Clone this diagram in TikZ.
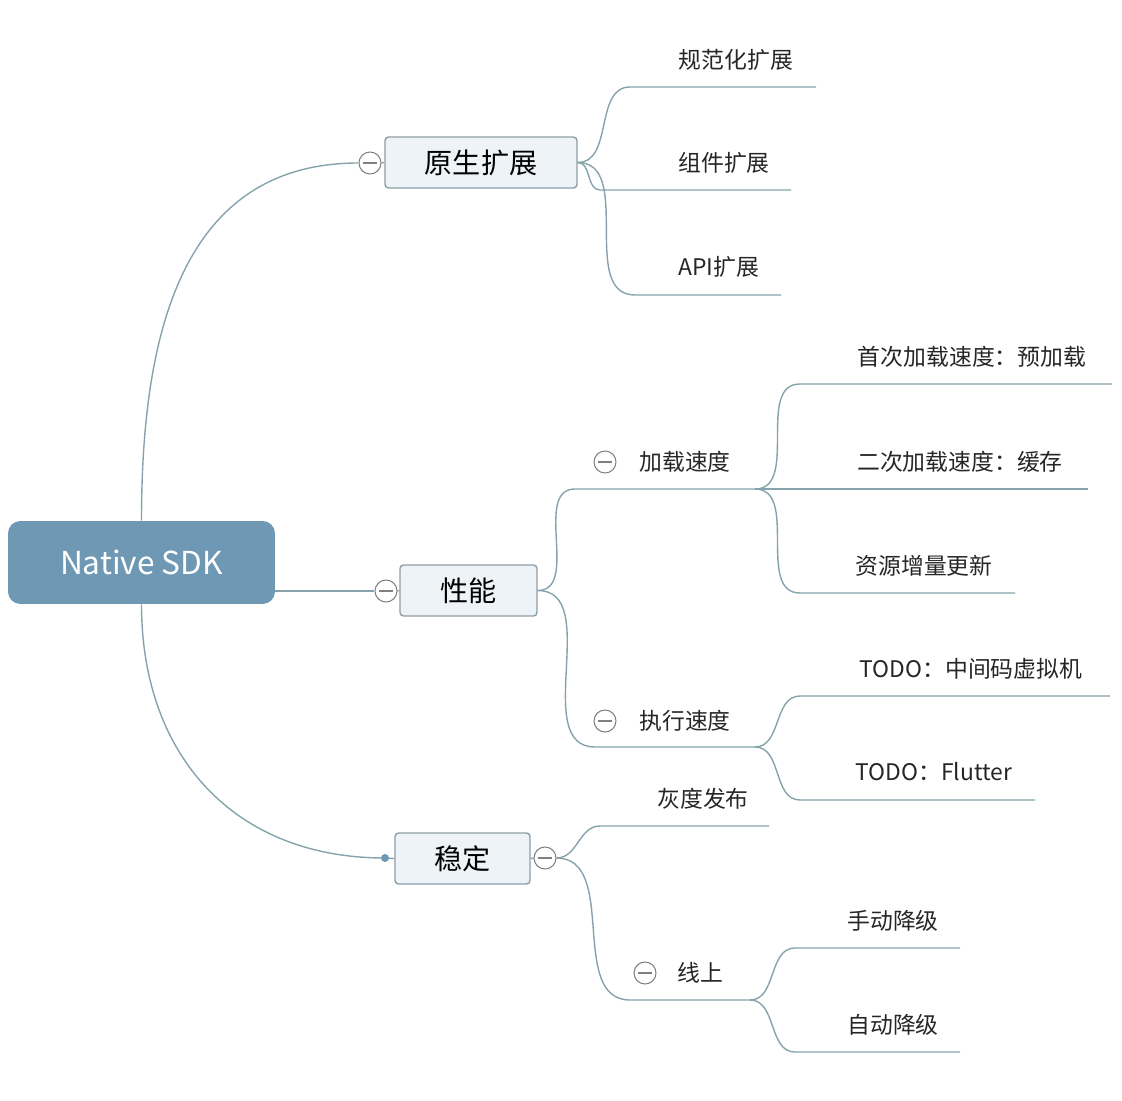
\documentclass[tikz,border=0pt]{standalone}
\usepackage{fontspec}
\setmainfont{Noto Sans CJK SC}
\usetikzlibrary{backgrounds}
\definecolor{rootblue}{HTML}{6F98B4}
\definecolor{boxfill}{HTML}{EEF3F8}
\definecolor{boxline}{HTML}{8E9EA8}
\definecolor{branch}{HTML}{86A3AC}
\pgfdeclarelayer{edgelayer}
\pgfdeclarelayer{nodelayer}
\pgfsetlayers{edgelayer,nodelayer,main}
\tikzset{font=\fontsize{13}{15}\selectfont}
\tikzstyle{none}=[inner sep=0pt]
\tikzstyle{root}=[rectangle,rounded corners=7pt,fill=rootblue,text=white,minimum width=5.34cm,minimum height=1.66cm,font=\fontsize{18}{20}\selectfont]
\tikzstyle{topic}=[rectangle,rounded corners=2pt,draw=boxline,fill=boxfill,line width=0.8pt,minimum height=1.02cm,font=\fontsize{16}{18}\selectfont]
\tikzstyle{leaf}=[inner sep=0pt,text=black!85]
\tikzstyle{fold}=[circle,draw=gray,fill=white,line width=0.6pt,minimum size=0.44cm,inner sep=0pt,
  path picture={\draw[gray,line width=0.6pt] ([xshift=-0.14cm]path picture bounding box.center) -- ([xshift=0.14cm]path picture bounding box.center);}]
\tikzstyle{dot}=[circle,fill=rootblue,inner sep=0pt,minimum size=0.16cm]
\tikzstyle{branchline}=[draw=branch,line width=0.8pt]

\begin{document}
\begin{tikzpicture}[x=0.02cm,y=0.02cm]
	\useasboundingbox (0,0) rectangle (1122,1100);
	\begin{pgfonlayer}{nodelayer}
		\node [style=root] (0) at (141.5, 537.5) {Native SDK};
		\node [style=topic, minimum width=3.84cm] (1) at (481, 937.5) {原生扩展};
		\node [style=topic, minimum width=2.74cm] (2) at (468.5, 509.5) {性能};
		\node [style=topic, minimum width=2.70cm] (3) at (462.5, 241.5) {稳定};
		\node [style=fold] (4) at (370, 937) {};
		\node [style=fold] (5) at (386, 509) {};
		\node [style=dot] (6) at (385, 242) {};
		\node [style=fold] (7) at (545, 242) {};
		% 原生扩展
		\node [style=leaf] (8) at (736, 1040) {规范化扩展};
		\node [style=none] (9) at (630, 1013) {};
		\node [style=none] (10) at (816, 1013) {};
		\node [style=leaf] (11) at (724, 937) {组件扩展};
		\node [style=none] (12) at (600, 910) {};
		\node [style=none] (13) at (791, 910) {};
		\node [style=leaf] (14) at (719, 833) {API扩展};
		\node [style=none] (15) at (635, 805) {};
		\node [style=none] (16) at (781, 805) {};
		% 性能
		\node [style=fold] (17) at (605, 638) {};
		\node [style=leaf] (18) at (685, 638) {加载速度};
		\node [style=none] (19) at (575, 611) {};
		\node [style=none] (20) at (755, 611) {};
		\node [style=fold] (21) at (605, 379) {};
		\node [style=leaf] (22) at (685, 379) {执行速度};
		\node [style=none] (23) at (595, 353) {};
		\node [style=none] (24) at (755, 353) {};
		\node [style=leaf] (25) at (972, 743) {首次加载速度：预加载};
		\node [style=none] (26) at (800, 716) {};
		\node [style=none] (27) at (1112, 716) {};
		\node [style=leaf] (28) at (960, 638) {二次加载速度：缓存};
		\node [style=none] (29) at (800, 611) {};
		\node [style=none] (30) at (1088, 611) {};
		\node [style=leaf] (31) at (924, 534) {资源增量更新};
		\node [style=none] (32) at (800, 507) {};
		\node [style=none] (33) at (1015, 507) {};
		\node [style=leaf] (34) at (971, 431) {TODO：中间码虚拟机};
		\node [style=none] (35) at (800, 404) {};
		\node [style=none] (36) at (1110, 404) {};
		\node [style=leaf] (37) at (934, 328) {TODO：Flutter};
		\node [style=none] (38) at (800, 300) {};
		\node [style=none] (39) at (1035, 300) {};
		% 稳定
		\node [style=leaf] (40) at (703, 301) {灰度发布};
		\node [style=none] (41) at (600, 274) {};
		\node [style=none] (42) at (769, 274) {};
		\node [style=fold] (43) at (645, 127) {};
		\node [style=leaf] (44) at (700, 127) {线上};
		\node [style=none] (45) at (630, 100) {};
		\node [style=none] (46) at (750, 100) {};
		\node [style=leaf] (47) at (893, 179) {手动降级};
		\node [style=none] (48) at (795, 152) {};
		\node [style=none] (49) at (960, 152) {};
		\node [style=leaf] (50) at (893, 75) {自动降级};
		\node [style=none] (51) at (795, 48) {};
		\node [style=none] (52) at (960, 48) {};
	\end{pgfonlayer}
	\begin{pgfonlayer}{edgelayer}
		\draw[style=branchline] [in=180, out=90, looseness=1.10] (0.north) to (4.west);
		\draw[style=branchline] (0.east |- 5.west) to (5.west);
		\draw[style=branchline] [in=180, out=-90, looseness=1.10] (0.south) to (6.center);
		\draw[style=branchline] (4.east) to (1.west);
		\draw[style=branchline] (5.east) to (2.west);
		\draw[style=branchline] (6.center) to (3.west);
		\draw[style=branchline] (3.east) to (7.west);
		\draw[style=branchline] [in=180, out=0] (1.east) to (9.center) to (10.center);
		\draw[style=branchline] [in=180, out=0] (1.east) to (12.center) to (13.center);
		\draw[style=branchline] [in=180, out=0] (1.east) to (15.center) to (16.center);
		\draw[style=branchline] [in=180, out=0] (2.east) to (19.center) to (20.center);
		\draw[style=branchline] [in=180, out=0] (2.east) to (23.center) to (24.center);
		\draw[style=branchline] [in=180, out=0] (20.center) to (26.center) to (27.center);
		\draw[style=branchline] [in=180, out=0] (20.center) to (29.center) to (30.center);
		\draw[style=branchline] [in=180, out=0] (20.center) to (32.center) to (33.center);
		\draw[style=branchline] [in=180, out=0] (24.center) to (35.center) to (36.center);
		\draw[style=branchline] [in=180, out=0] (24.center) to (38.center) to (39.center);
		\draw[style=branchline] [in=180, out=0] (7.east) to (41.center) to (42.center);
		\draw[style=branchline] [in=180, out=0] (7.east) to (45.center) to (46.center);
		\draw[style=branchline] [in=180, out=0] (46.center) to (48.center) to (49.center);
		\draw[style=branchline] [in=180, out=0] (46.center) to (51.center) to (52.center);
	\end{pgfonlayer}
\end{tikzpicture}
\end{document}
